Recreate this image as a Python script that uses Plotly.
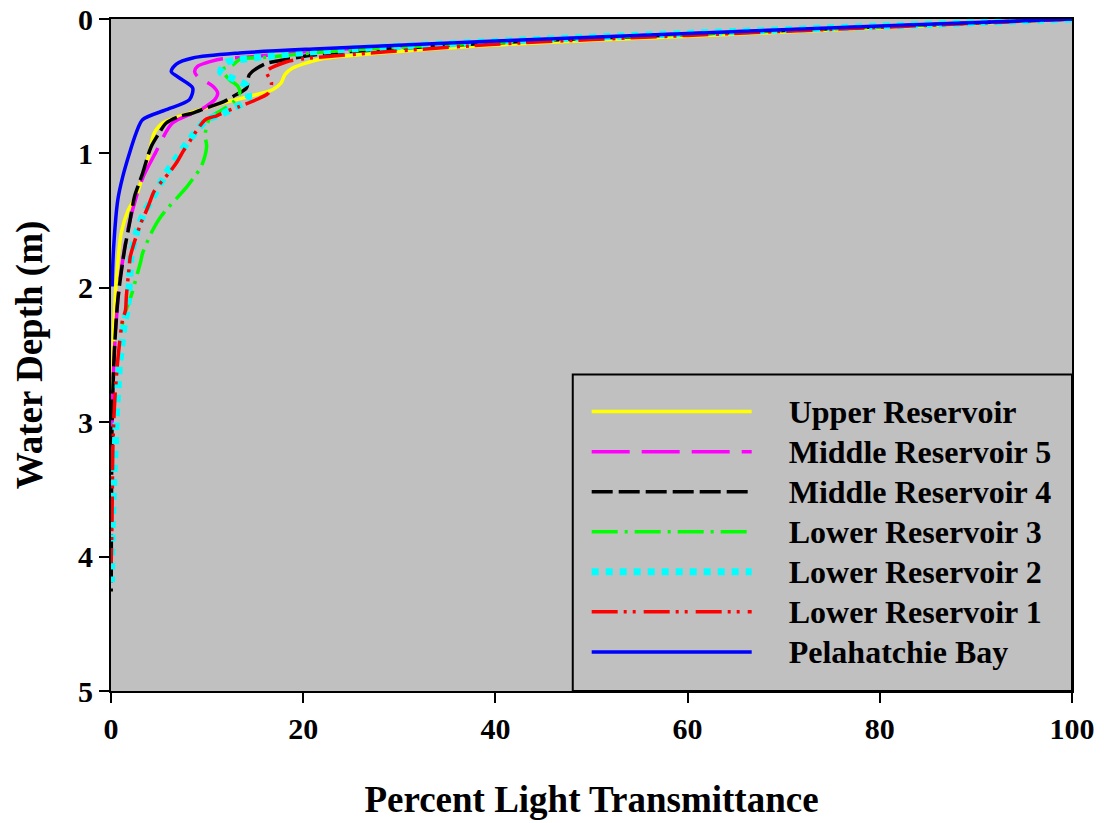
import plotly.graph_objects as go

# ---- data (percent light transmittance vs water depth, m) ----
upper_x = [100, 80, 60, 40, 25, 21.7, 18.9, 18.1, 17.7, 16.8, 14.4, 11.6, 8.17, 5.4, 4.5, 4.2, 3.83, 3.3, 2.6, 1.8, 1.07, 0.54, 0.2, 0.08, 0.02]
upper_d = [0, 0.065, 0.128, 0.194, 0.272, 0.30, 0.365, 0.414, 0.476, 0.526, 0.576, 0.625, 0.70, 0.774, 0.848, 0.923, 1.047, 1.171, 1.32, 1.42, 1.59, 1.96, 2.46, 2.75, 3.0]

mid5_x = [100, 80, 60, 40, 22, 14.4, 11.6, 10.4, 9.0, 8.7, 9.0, 10.6, 11.1, 10.8, 9.9, 9.0, 6.4, 4.6, 3.2, 1.9, 0.9, 0.36, 0.15, 0.05]
mid5_d = [0, 0.055, 0.109, 0.17, 0.232, 0.283, 0.295, 0.315, 0.353, 0.39, 0.427, 0.50, 0.55, 0.60, 0.65, 0.687, 0.774, 1.0, 1.2, 1.52, 1.96, 2.46, 2.9, 3.25]

mid4_x = [100, 80, 60, 40, 22, 17.5, 16, 14.4, 14.1, 12.7, 11.8, 9.9, 8.5, 7.1, 5.75, 4.9, 4.19, 3.83, 3.3, 2.8, 2.45, 1.93, 1.4, 0.71, 0.36, 0.12, 0.05, 0.02]
mid4_d = [0, 0.058, 0.115, 0.178, 0.26, 0.31, 0.335, 0.414, 0.513, 0.576, 0.613, 0.662, 0.70, 0.725, 0.774, 0.861, 0.948, 1.02, 1.146, 1.245, 1.32, 1.52, 1.72, 2.09, 2.46, 2.96, 3.6, 4.26]

low3_x = [100, 80, 60, 40, 22, 16.2, 13.4, 12.7, 11.6, 12.3, 13.2, 13.4, 12.7, 11.6, 10.3, 9.8, 9.95, 9.4, 8.6, 7.8, 5.75, 5.0, 4.35, 3.3, 3.07, 2.8, 2.1, 1.75, 1.4, 1.1]
low3_d = [0, 0.057, 0.112, 0.174, 0.245, 0.285, 0.30, 0.34, 0.378, 0.45, 0.50, 0.55, 0.62, 0.675, 0.735, 0.86, 0.95, 1.097, 1.18, 1.257, 1.42, 1.49, 1.57, 1.74, 1.81, 1.88, 2.06, 2.13, 2.2, 2.3]

low2_x = [100, 80, 60, 40, 22, 16.2, 13.4, 12, 11.4, 12.75, 14.1, 14.25, 12.8, 11.5, 9.9, 7.65, 6.7, 5.75, 4.18, 3.4, 2.8, 2.1, 2.0, 1.7, 1.4, 1.23, 1.06, 0.88, 0.8, 0.71, 0.6, 0.54, 0.45, 0.35, 0.26, 0.12, 0.05]
low2_d = [0, 0.053, 0.107, 0.167, 0.238, 0.278, 0.303, 0.323, 0.395, 0.446, 0.496, 0.595, 0.662, 0.707, 0.754, 0.948, 1.047, 1.146, 1.35, 1.45, 1.555, 1.76, 1.86, 2.16, 2.26, 2.36, 2.47, 2.57, 2.67, 2.78, 2.88, 2.98, 3.18, 3.3, 3.49, 3.79, 4.19]

low1_x = [100, 80, 60, 40, 22, 19.3, 18.2, 16.2, 16.7, 16.4, 15.5, 13.4, 12, 11, 9.8, 8.1, 7.5, 6.9, 6.1, 4.5, 4.0, 3.6, 3.1, 2.3, 2.0, 1.9, 1.6, 1.5, 1.2, 0.8, 0.54, 0.36, 0.19, 0.12, 0.02]
low1_d = [0, 0.062, 0.122, 0.188, 0.282, 0.303, 0.32, 0.39, 0.476, 0.55, 0.588, 0.65, 0.687, 0.72, 0.75, 0.92, 0.985, 1.06, 1.14, 1.28, 1.37, 1.44, 1.52, 1.69, 1.77, 1.84, 2.06, 2.17, 2.24, 2.47, 2.68, 2.88, 3.2, 3.65, 4.05]

bay_x = [100, 80, 61.3, 40, 21.7, 13.4, 8.5, 6.8, 6.27, 7.13, 8.5, 8.17, 5.75, 3.28, 2.62, 1.93, 1.23, 0.71, 0.26, 0.12]
bay_d = [0, 0.052, 0.104, 0.164, 0.221, 0.253, 0.290, 0.335, 0.39, 0.439, 0.513, 0.60, 0.675, 0.749, 0.848, 0.997, 1.171, 1.345, 1.716, 1.99]

names = ["Upper Reservoir", "Middle Reservoir 5", "Middle Reservoir 4",
         "Lower Reservoir 3", "Lower Reservoir 2", "Lower Reservoir 1",
         "Pelahatchie Bay"]
x_ticks = [0, 20, 40, 60, 80, 100]
y_ticks = [0, 1, 2, 3, 4, 5]

series = [(upper_x, upper_d), (mid5_x, mid5_d), (mid4_x, mid4_d),
          (low3_x, low3_d), (low2_x, low2_d), (low1_x, low1_d), (bay_x, bay_d)]
colors = ["#FFFF00", "#FF00FF", "#000000", "#00FF00", "#00FFFF", "#FF0000", "#0000FF"]
dashes = ["solid", "38px,12px", "21px,6px", "26px,7px,3px,7px", "7px,7px",
          "26px,6px,3px,6px,3px,8px", "solid"]
widths = [3.5, 3.5, 3.5, 3.5, 7, 3.5, 3.5]

FONT = "Liberation Serif, Times New Roman, serif"
NB = "\u00a0" * 4

fig = go.Figure()
for i, ((xs, ds), nm) in enumerate(zip(series, names)):
    fig.add_trace(go.Scatter(
        x=xs, y=ds, mode="lines",
        name='<span style="font-size:32px">' + NB + nm + "</span>",
        line=dict(color=colors[i], width=widths[i], dash=dashes[i],
                  shape="spline", smoothing=0.8),
        hoverinfo="skip"))

fig.update_layout(
    width=1104, height=823,
    margin=dict(l=111, r=32, t=19, b=132, autoexpand=False),
    paper_bgcolor="white", plot_bgcolor="#C0C0C0",
    font=dict(family=FONT, size=30, color="black"),
    showlegend=True,
    legend=dict(x=0.495, y=0.453, xanchor="left", yanchor="top",
                bgcolor="rgba(0,0,0,0)", borderwidth=0,
                font=dict(family=FONT, size=28.5, color="black", weight="bold"),
                itemwidth=160, traceorder="normal"),
    xaxis=dict(range=[0, 100], tickvals=x_ticks, automargin=False,
               ticklabeloverflow="allow",
               showgrid=False, zeroline=False, showline=True, mirror=True,
               linecolor="black", linewidth=2, ticks="outside", ticklen=10,
               tickwidth=2, tickcolor="black",
               tickfont=dict(family=FONT, size=30, weight="bold"),
               title=dict(text="<b>Percent Light Transmittance</b>",
                          font=dict(family=FONT, size=37), standoff=42)),
    yaxis=dict(range=[5, 0], tickvals=y_ticks, automargin=False,
               ticklabeloverflow="allow",
               showgrid=False, zeroline=False, showline=True, mirror=True,
               linecolor="black", linewidth=2, ticks="outside", ticklen=10,
               tickwidth=2, tickcolor="black",
               tickfont=dict(family=FONT, size=30, weight="bold"),
               title=dict(text="<b>Water Depth (m)</b>",
                          font=dict(family=FONT, size=37), standoff=24)),
    shapes=[dict(type="rect", xref="paper", yref="paper",
                 x0=0.4805, x1=1, y0=0, y1=0.4708,
                 line=dict(color="black", width=2), layer="above")],
)

fig.write_html("out.html", config={"displayModeBar": False},
               post_script="document.body.style.margin='0px';")
